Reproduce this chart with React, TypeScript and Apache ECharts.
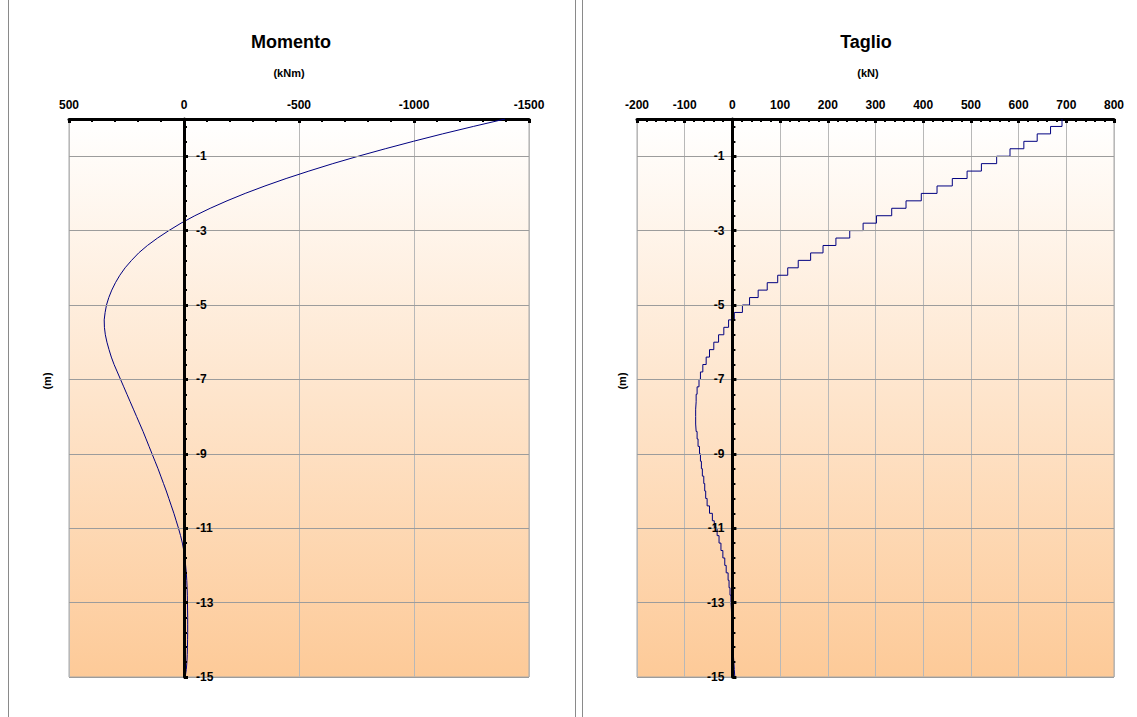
import React, { useEffect, useRef } from "react";
import * as echarts from "echarts";

// Depth of each computed section (m)
const DEPTHS = [
  0, -0.2, -0.4, -0.6, -0.8, -1, -1.2, -1.4, -1.6, -1.8, -2, -2.2, -2.4, -2.6, -2.8, -3,
  -3.2, -3.4, -3.6, -3.8, -4, -4.2, -4.4, -4.6, -4.8, -5, -5.2, -5.4, -5.6, -5.8, -6,
  -6.2, -6.4, -6.6, -6.8, -7, -7.2, -7.4, -7.6, -7.8, -8, -8.2, -8.4, -8.6, -8.8, -9,
  -9.2, -9.4, -9.6, -9.8, -10, -10.2, -10.4, -10.6, -10.8, -11, -11.2, -11.4, -11.6, -11.8, -12,
  -12.2, -12.4, -12.6, -12.8, -13, -13.2, -13.4, -13.6, -13.8, -14, -14.2, -14.4, -14.6, -14.8, -15,
];

// Bending moment at each depth (kNm)
const MOMENT = [
  -1396, -1258, -1124, -997, -875, -758, -647, -543, -444, -352, -266, -187, -114, -47, 13, 66,
  115, 159, 197, 228, 256, 279, 298, 314, 327, 337, 343, 347, 346, 342, 335,
  326, 316, 304, 290, 276, 262, 248, 234, 220, 206, 192, 178, 165, 152, 139,
  126, 113, 101, 89, 77, 66, 55, 44, 34, 24, 15, 7, 1, -4, -7,
  -10, -12, -13.5, -14.5, -15, -15.5, -16, -16, -16, -15.5, -15, -14, -12.5, -10, -5,
];

// Shear in each 0.2 m segment (kN), segment i spans DEPTHS[i]..DEPTHS[i+1]
const SHEAR = [
  691, 667, 639, 611, 582, 554, 522, 492, 461, 429, 396, 364, 334, 302, 274, 246,
  217, 190, 164, 138, 116, 95, 73, 54, 36, 21, 4, -8, -18, -29, -39,
  -48, -55, -62, -67, -70, -74, -76, -77, -77, -77, -76, -74, -72, -69, -67,
  -65, -63, -60, -58, -56, -53, -48, -42, -38, -32, -28, -24, -20, -16, -13,
  -9, -7, -5, -3, -2, -1.5, -1, -0.5, 0, 1, 2, 3, 4, 5,
];

const DEPTH_LABELS = [-15, -13, -11, -9, -7, -5, -3, -1];
const MOMENT_AXIS = { min: -1500, max: 500, interval: 500 };
const SHEAR_AXIS = { min: -200, max: 800, interval: 100 };
const DEPTH_AXIS = { min: -15, max: 0 };

const FONT = "'Liberation Sans', Arial, Helvetica, sans-serif";

export default function App() {
  const ref = useRef<HTMLDivElement>(null);

  useEffect(() => {
    if (!ref.current) return;
    const chart = echarts.init(ref.current, undefined, { renderer: "svg" });

    const W = 1137;
    const H = 717;
    const g0 = { left: 69, right: W - 529, top: 119, bottom: H - 677 };
    const g1 = { left: 637, right: W - 1114, top: 119, bottom: H - 677 };
    const g0w = W - g0.left - g0.right;
    const g1w = W - g1.left - g1.right;

    // minor tick positions on the depth axis
    const minorDepth: number[] = [];
    for (let k = 0; k <= 37; k++) minorDepth.push(+(DEPTH_AXIS.min + 0.4 * k).toFixed(2));

    const momentData = DEPTHS.map((d, i) => [MOMENT[i], d]);
    const shearData: number[][] = [];
    SHEAR.forEach((v, i) => {
      shearData.push([v, DEPTHS[i]]);
      shearData.push([v, DEPTHS[i + 1]]);
    });

    const bg = () =>
      new echarts.graphic.LinearGradient(0, 0, 0, 1, [
        { offset: 0, color: "#ffffff" },
        { offset: 1, color: "#fdca98" },
      ]);

    const labelStyle = {
      color: "#000",
      fontSize: 12,
      fontWeight: "bold",
      fontFamily: FONT,
    };

    const xAxisBase = (gridIndex: number) => ({
      gridIndex,
      type: "value",
      position: "top",
      axisLine: { onZero: false, lineStyle: { color: "#000", width: 3 } },
      axisTick: { inside: true, length: 4, lineStyle: { color: "#000", width: 3 } },
      minorTick: { show: true, splitNumber: 5, length: 3, lineStyle: { color: "#000", width: 2 } },
      axisLabel: { formatter: (v: number) => String(v), margin: 8, ...labelStyle },
      splitLine: { show: true, lineStyle: { color: "#b8b8b8", width: 1 } },
    });

    // depth axis: thick line at zero of the horizontal axis, grid lines
    const yAxisMain = (gridIndex: number) => ({
      gridIndex,
      type: "value",
      position: "left",
      min: DEPTH_AXIS.min,
      max: DEPTH_AXIS.max,
      axisLine: { onZero: true, lineStyle: { color: "#000", width: 3 } },
      axisTick: { show: false, customValues: DEPTH_LABELS },
      axisLabel: { show: false },
      splitLine: { show: true, lineStyle: { color: "#9c9c9c", width: 1 } },
      z: 5,
    });

    // depth axis: major ticks + labels placed on the zero line
    const yAxisLabels = (gridIndex: number, offset: number, inside: boolean, margin: number) => ({
      gridIndex,
      type: "value",
      position: "left",
      offset,
      min: DEPTH_AXIS.min,
      max: DEPTH_AXIS.max,
      axisLine: { show: false, onZero: false },
      axisTick: {
        inside: true,
        length: 4,
        customValues: DEPTH_LABELS,
        lineStyle: { color: "#000", width: 3 },
      },
      axisLabel: {
        inside,
        margin,
        customValues: DEPTH_LABELS,
        formatter: (v: number) => String(v),
        ...labelStyle,
      },
      splitLine: { show: false },
      z: 6,
    });

    const yAxisMinor = (gridIndex: number, offset: number) => ({
      gridIndex,
      type: "value",
      position: "left",
      offset,
      min: DEPTH_AXIS.min,
      max: DEPTH_AXIS.max,
      axisLine: { show: false, onZero: false },
      axisTick: {
        inside: true,
        length: 3,
        customValues: minorDepth,
        lineStyle: { color: "#000", width: 2 },
      },
      axisLabel: { show: false },
      splitLine: { show: false },
      z: 6,
    });

    const off0 = -g0w * ((MOMENT_AXIS.max - 0) / (MOMENT_AXIS.max - MOMENT_AXIS.min));
    const off1 = -g1w * ((0 - SHEAR_AXIS.min) / (SHEAR_AXIS.max - SHEAR_AXIS.min));

    const textEl = (text: string, x: number, y: number, size: number, rotation = 0) => ({
      type: "text",
      x,
      y,
      rotation,
      silent: true,
      style: {
        text,
        fill: "#000",
        font: `bold ${size}px ${FONT}`,
        textAlign: "center",
        textVerticalAlign: "middle",
      },
    });

    const vline = (x: number) => ({
      type: "line",
      silent: true,
      shape: { x1: x, y1: 0, x2: x, y2: H },
      style: { stroke: "#8a8a8a", lineWidth: 1 },
    });

    chart.setOption({
      animation: false,
      backgroundColor: "#ffffff",
      grid: [
        { ...g0, show: true, backgroundColor: bg(), borderColor: "#a8a8a8", borderWidth: 1 },
        { ...g1, show: true, backgroundColor: bg(), borderColor: "#a8a8a8", borderWidth: 1 },
      ],
      xAxis: [
        { ...xAxisBase(0), inverse: true, ...MOMENT_AXIS },
        { ...xAxisBase(1), ...SHEAR_AXIS },
      ],
      yAxis: [
        yAxisMain(0),
        yAxisMain(1),
        yAxisLabels(0, off0, true, 12),
        yAxisLabels(1, off1, false, 8),
        yAxisMinor(0, off0),
        yAxisMinor(1, off1),
      ],
      series: [
        {
          type: "line",
          name: "Momento",
          xAxisIndex: 0,
          yAxisIndex: 0,
          data: momentData,
          showSymbol: false,
          symbol: "none",
          lineStyle: { color: "#000080", width: 1 },
          z: 3,
        },
        {
          type: "line",
          name: "Taglio",
          xAxisIndex: 1,
          yAxisIndex: 1,
          data: shearData,
          showSymbol: false,
          symbol: "none",
          lineStyle: { color: "#000080", width: 1 },
          z: 3,
        },
      ],
      graphic: [
        vline(8.5),
        vline(575.5),
        vline(582.5),
        textEl("Momento", 291, 42, 18),
        textEl("Taglio", 866, 42, 18),
        textEl("(kNm)", 289, 73, 11),
        textEl("(kN)", 868, 73, 11),
        textEl("(m)", 47, 381, 11, Math.PI / 2),
        textEl("(m)", 622, 381, 11, Math.PI / 2),
      ],
    });

    return () => chart.dispose();
  }, []);

  return (
    <div
      ref={ref}
      style={{ position: "absolute", left: 0, top: 0, width: 1137, height: 717 }}
    />
  );
}
